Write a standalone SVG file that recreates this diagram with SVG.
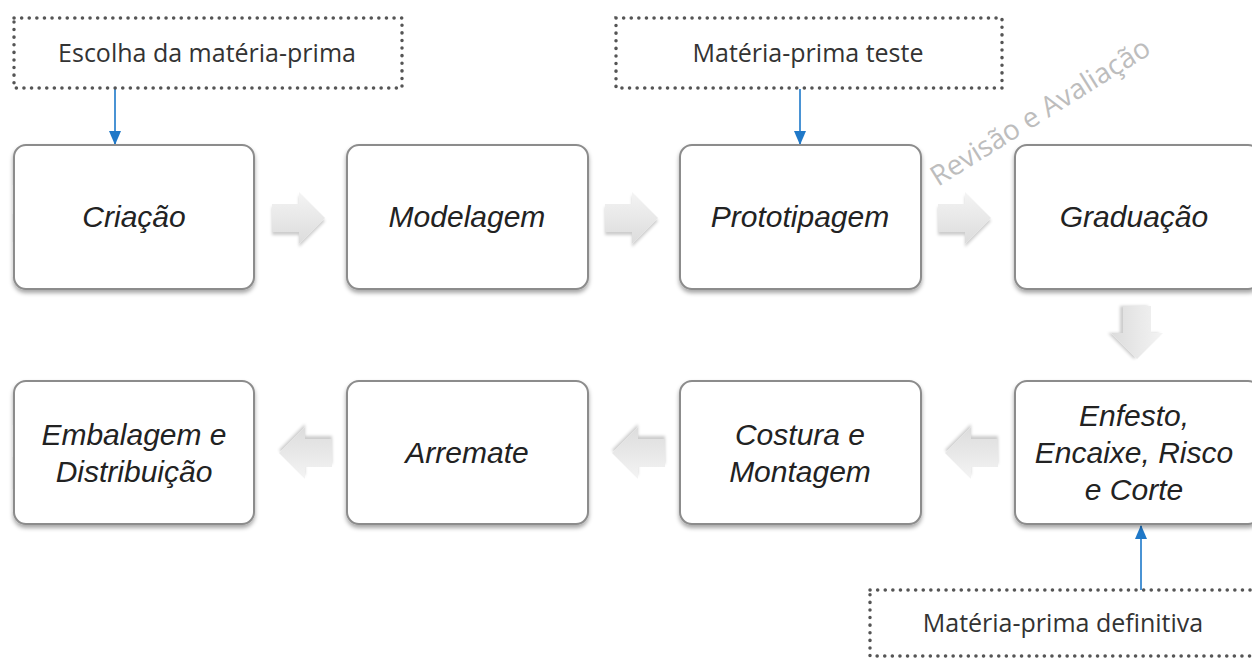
<svg xmlns="http://www.w3.org/2000/svg" width="1252" height="659" viewBox="0 0 1252 659">
<style>
.box{fill:#fff;stroke:#8c8c8c;stroke-width:2;filter:url(#sh)}
.lbl{font-family:"Liberation Sans",Arial,sans-serif;font-style:italic;font-size:30px;fill:#222;text-anchor:middle}
.note{fill:#fff;stroke:#555;stroke-width:3.5;stroke-dasharray:0.1 7.5;stroke-linecap:round}
.nt{font-family:"Open Sans","Noto Sans",sans-serif;font-size:25px;fill:#333;text-anchor:middle}
.blk{fill:url(#g);filter:url(#sh2)}
.con{stroke:#4a93d4;stroke-width:2;fill:none;marker-end:url(#ah)}
</style>
<defs>
<filter id="sh" x="-10%" y="-10%" width="120%" height="130%"><feDropShadow dx="0" dy="3" stdDeviation="2" flood-color="#000" flood-opacity="0.35"/></filter>
<filter id="sh2" x="-20%" y="-20%" width="140%" height="150%"><feDropShadow dx="0" dy="3" stdDeviation="1.5" flood-color="#000" flood-opacity="0.2"/></filter>
<linearGradient id="g" x1="0" y1="0" x2="0" y2="1"><stop offset="0" stop-color="#f4f4f4"/><stop offset="1" stop-color="#dcdcdc"/></linearGradient>
<marker id="ah" markerWidth="14" markerHeight="12" refX="13" refY="6" orient="auto" markerUnits="userSpaceOnUse"><path d="M0,0 L14,6 L0,12 Z" fill="#1f78c8"/></marker>
<path id="ar" d="M0,-14 L27,-14 L27,-26 L53,0 L27,26 L27,14 L0,14 Z"/>
</defs>
<g id="connectors">
<use href="#ar" class="blk" transform="translate(272,218)"/>
<use href="#ar" class="blk" transform="translate(605,218)"/>
<use href="#ar" class="blk" transform="translate(938,218)"/>
<use href="#ar" class="blk" transform="translate(1137,306) rotate(90)"/>
<use href="#ar" class="blk" transform="translate(998,453) rotate(180)"/>
<use href="#ar" class="blk" transform="translate(665,453) rotate(180)"/>
<use href="#ar" class="blk" transform="translate(332,453) rotate(180)"/>
<path class="con" d="M115,89 L115,144"/>
<path class="con" d="M800,89 L800,144"/>
<path class="con" d="M1141,590 L1141,526"/>
</g>
<g id="n-escolha"><rect class="note" x="14" y="18" width="388" height="70"/><text class="nt" x="207" y="62">Escolha da matéria-prima</text></g>
<g id="n-teste"><rect class="note" x="616" y="18" width="386" height="70"/><text class="nt" x="808" y="62">Matéria-prima teste</text></g>
<g id="n-definitiva"><rect class="note" x="870" y="590" width="400" height="66"/><text class="nt" x="1063" y="632">Matéria-prima definitiva</text></g>
<g id="n-criacao"><rect class="box" x="14" y="145" width="240" height="144" rx="12"/><text class="lbl" x="134" y="227">Criação</text></g>
<g id="n-modelagem"><rect class="box" x="347" y="145" width="241" height="144" rx="12"/><text class="lbl" x="467" y="227">Modelagem</text></g>
<g id="n-prototipagem"><rect class="box" x="680" y="145" width="241" height="144" rx="12"/><text class="lbl" x="800" y="227">Prototipagem</text></g>
<g id="n-graduacao"><rect class="box" x="1015" y="145" width="245" height="144" rx="12"/><text class="lbl" x="1134" y="227">Graduação</text></g>
<g id="n-enfesto"><rect class="box" x="1015" y="381" width="245" height="143" rx="12"/><text class="lbl" x="1134" y="426">Enfesto,</text><text class="lbl" x="1134" y="463">Encaixe, Risco</text><text class="lbl" x="1134" y="500">e Corte</text></g>
<g id="n-costura"><rect class="box" x="680" y="381" width="241" height="143" rx="12"/><text class="lbl" x="800" y="445">Costura e</text><text class="lbl" x="800" y="482">Montagem</text></g>
<g id="n-arremate"><rect class="box" x="347" y="381" width="241" height="143" rx="12"/><text class="lbl" x="467" y="463">Arremate</text></g>
<g id="n-embalagem"><rect class="box" x="14" y="381" width="240" height="143" rx="12"/><text class="lbl" x="134" y="445">Embalagem e</text><text class="lbl" x="134" y="482">Distribuição</text></g>
<text x="938" y="187" transform="rotate(-32 938 187)" font-family="Open Sans, Noto Sans, sans-serif" font-size="28" fill="#bdbdbd">Revisão e Avaliação</text>
</svg>
